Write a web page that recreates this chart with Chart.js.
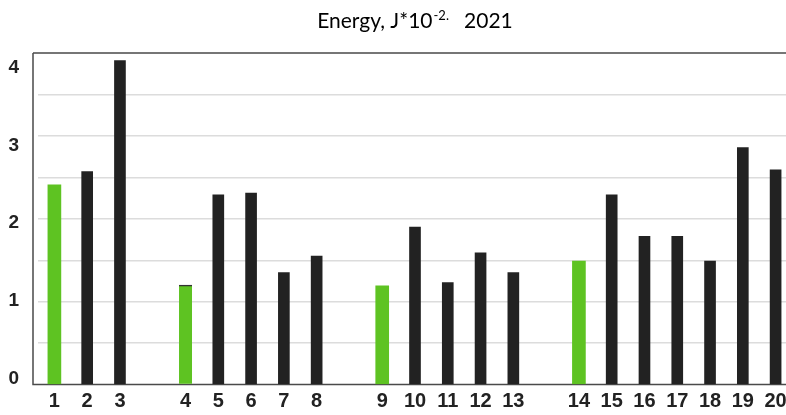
<!DOCTYPE html>
<html>
<head>
<meta charset="utf-8">
<script src="https://cdn.jsdelivr.net/npm/chart.js@4/dist/chart.umd.min.js"></script>
<style>
  html, body { margin: 0; padding: 0; background: #ffffff; }
  #wrap { width: 786px; height: 415px; overflow: hidden; }
  canvas { display: block; }
</style>
</head>
<body>
<div id="wrap"><canvas id="chart" width="800" height="415"></canvas></div>
<script>
// Sample numbers along the axis; empty strings leave a gap between groups.
const categories = ['1', '2', '3', '', '4', '5', '6', '7', '8', '', '9', '10', '11', '12', '13', '', '14', '15', '16', '17', '18', '19', '20'];
// Energy per sample, J*10^-2 (null where a gap sits).
const energy = [2.41, 2.57, 3.91, null, 1.20, 2.29, 2.31, 1.35, 1.55, null, 1.19, 1.90, 1.23, 1.59, 1.35, null, 1.49, 2.29, 1.79, 1.79, 1.49, 2.86, 2.59];
// Samples shown in green (first of each group).
const highlighted = ['1', '4', '9', '14'];
// Value-axis labels.
const yTickLabels = [0, 1, 2, 3, 4];

const greenValues = energy.map((v, i) => highlighted.includes(categories[i]) ? v : null);
const darkValues = energy.map((v, i) => highlighted.includes(categories[i]) ? null : v);

const frameAndTitle = {
  id: 'frameAndTitle',
  beforeDatasetsDraw(chart) {
    const { ctx, chartArea } = chart;
    const left = chartArea.left - 5;
    ctx.save();
    ctx.strokeStyle = '#4a4a4a';
    ctx.lineWidth = 1.5;
    ctx.beginPath();
    ctx.moveTo(left, chartArea.top);
    ctx.lineTo(chart.width, chartArea.top);
    ctx.moveTo(left, chartArea.top);
    ctx.lineTo(left, chartArea.bottom);
    ctx.lineTo(chart.width, chartArea.bottom);
    ctx.stroke();
    ctx.restore();
  },
  afterDraw(chart) {
    const { ctx, chartArea } = chart;
    const main = 'Energy, J*10';
    const sup = '-2.';
    const tail = '   2021';
    const mainFont = '21px Lato, "Open Sans", sans-serif';
    const supFont = '13px Lato, "Open Sans", sans-serif';
    ctx.save();
    ctx.fillStyle = '#000000';
    ctx.textBaseline = 'alphabetic';
    ctx.font = mainFont;
    const w1 = ctx.measureText(main).width;
    const w3 = ctx.measureText(tail).width;
    ctx.font = supFont;
    const w2 = ctx.measureText(sup).width;
    const total = w1 + w2 + w3;
    let x = (chartArea.left + chartArea.right) / 2 - total / 2;
    const base = 28;
    ctx.font = mainFont;
    ctx.fillText(main, x, base);
    x += w1;
    ctx.font = supFont;
    ctx.fillText(sup, x + 1, base - 8);
    x += w2;
    ctx.font = mainFont;
    ctx.fillText(tail, x, base);
    ctx.restore();
  }
};

new Chart(document.getElementById('chart'), {
  type: 'bar',
  data: {
    labels: categories,
    datasets: [
      {
        label: 'highlighted',
        data: greenValues,
        backgroundColor: '#5ec322',
        borderColor: '#333333',
        borderWidth: ctx => (ctx.dataIndex === 4 ? { top: 1.5, left: 0, right: 0, bottom: 0 } : 0),
        borderSkipped: false,
        barThickness: 13,
        grouped: false,
        yAxisID: 'y'
      },
      {
        label: 'energy',
        data: darkValues,
        backgroundColor: '#222222',
        borderWidth: 0,
        barThickness: 11,
        grouped: false,
        yAxisID: 'y'
      }
    ]
  },
  options: {
    responsive: false,
    animation: false,
    devicePixelRatio: 1,
    layout: { padding: { top: 53, right: 8, left: 0, bottom: 0 } },
    plugins: {
      legend: { display: false },
      title: { display: false },
      tooltip: { enabled: false }
    },
    scales: {
      x: {
        offset: true,
        grid: { display: false, drawTicks: false },
        border: { display: false },
        ticks: {
          color: '#222222',
          font: { family: '"Liberation Sans", Arial, sans-serif', size: 20, weight: 'bold' },
          padding: 5,
          autoSkip: false,
          maxRotation: 0
        },
        afterFit(scale) { scale.height = 29; }
      },
      y: {
        position: 'left',
        weight: 0,
        min: 0,
        max: 4,
        grid: {
          drawTicks: false,
          color: ctx => (ctx.tick && (ctx.tick.value === 0 || ctx.tick.value === 4) ? 'rgba(0,0,0,0)' : '#dcdcdc'),
          lineWidth: 1.5
        },
        border: { display: false },
        ticks: { stepSize: 0.5, display: false },
        afterFit(scale) { scale.width = 0; }
      },
      yLabels: {
        position: 'left',
        weight: 1,
        min: -0.08,
        max: 4.19,
        grid: { display: false, drawTicks: false },
        border: { display: false },
        afterBuildTicks(scale) { scale.ticks = yTickLabels.map(v => ({ value: v })); },
        ticks: {
          padding: 19,
          color: '#222222',
          font: { family: '"Liberation Sans", Arial, sans-serif', size: 19, weight: 'bold' },
          callback: v => String(v)
        },
        afterFit(scale) { scale.width = 38; }
      }
    }
  },
  plugins: [frameAndTitle]
});
</script>
</body>
</html>
